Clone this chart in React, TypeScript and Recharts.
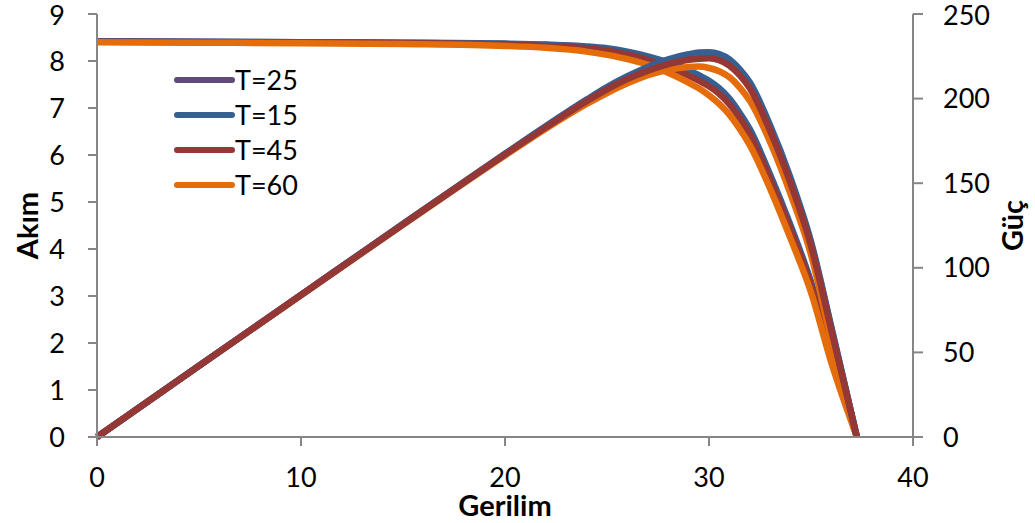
import { Legend, Line, LineChart, XAxis, YAxis } from 'recharts'

// Gerilim (V)
const voltages = [0, 5, 10, 15, 20, 22, 24, 25, 26, 27, 28, 29, 29.5, 30, 30.5, 31, 31.5, 32, 33, 34, 35, 36, 37.25]

// Akım (A)
const current25 = [8.42, 8.41, 8.4, 8.39, 8.36, 8.34, 8.29, 8.25, 8.17, 8.06, 7.92, 7.75, 7.65, 7.53, 7.37, 7.15, 6.85, 6.5, 5.53, 4.46, 3.27, 1.78, 0]
const current15 = [8.42, 8.41, 8.4, 8.39, 8.37, 8.35, 8.31, 8.27, 8.2, 8.1, 7.97, 7.8, 7.7, 7.58, 7.42, 7.2, 6.9, 6.55, 5.58, 4.5, 3.3, 1.8, 0]
const current45 = [8.41, 8.4, 8.39, 8.38, 8.35, 8.32, 8.27, 8.22, 8.14, 8.02, 7.87, 7.69, 7.58, 7.46, 7.3, 7.08, 6.79, 6.44, 5.48, 4.41, 3.23, 1.75, 0]
const current60 = [8.4, 8.39, 8.38, 8.36, 8.32, 8.28, 8.2, 8.13, 8.04, 7.92, 7.75, 7.54, 7.42, 7.27, 7.09, 6.86, 6.56, 6.21, 5.28, 4.22, 3.08, 1.58, 0]

// Güç (W)
const power25 = [0, 42.1, 84.0, 125.9, 167.2, 183.5, 199.0, 206.3, 212.4, 217.6, 221.8, 224.8, 225.7, 225.9, 224.8, 221.7, 215.8, 208.0, 182.5, 151.6, 114.5, 64.1, 0]
const power15 = [0, 42.1, 84.0, 125.9, 167.4, 183.7, 199.4, 206.8, 213.2, 218.7, 223.2, 226.2, 227.2, 227.4, 226.3, 223.2, 217.4, 209.6, 184.1, 153.0, 115.5, 64.8, 0]
const power45 = [0, 42.0, 83.9, 125.7, 167.0, 183.0, 198.5, 205.5, 211.6, 216.5, 220.4, 223.0, 223.6, 223.8, 222.7, 219.5, 213.9, 206.1, 180.8, 149.9, 113.1, 63.0, 0]
const power60 = [0, 42.0, 83.8, 125.4, 166.4, 182.2, 196.8, 203.3, 209.0, 213.8, 217.0, 218.7, 218.9, 218.1, 216.2, 212.7, 206.6, 198.7, 174.2, 143.5, 107.8, 56.9, 0]

const xTicks = [0, 10, 20, 30, 40]
const leftTicks = [0, 1, 2, 3, 4, 5, 6, 7, 8, 9]
const rightTicks = [0, 50, 100, 150, 200, 250]

const series = [
  { name: 'T=25', color: '#604A7B' },
  { name: 'T=15', color: '#376092' },
  { name: 'T=45', color: '#953735' },
  { name: 'T=60', color: '#E46C0A' },
]

const data = voltages.map((v, i) => ({
  v,
  i25: current25[i],
  i15: current15[i],
  i45: current45[i],
  i60: current60[i],
  p25: power25[i],
  p15: power15[i],
  p45: power45[i],
  p60: power60[i],
}))

const axisColor = '#868686'
const tickStyle = { fill: '#000', fontSize: 27 }
const titleStyle = { fill: '#000', fontSize: 29, fontWeight: 700 }

function LegendBox() {
  return (
    <div style={{ fontFamily: 'Lato', fontSize: 27, color: '#000' }}>
      {series.map((s) => (
        <div key={s.name} style={{ display: 'flex', alignItems: 'center', height: 35 }}>
          <svg width={61} height={10}>
            <line x1={3} y1={5} x2={58} y2={5} stroke={s.color} strokeWidth={6} strokeLinecap="round" />
          </svg>
          <span style={{ lineHeight: '35px' }}>{s.name}</span>
        </div>
      ))}
    </div>
  )
}

export default function App() {
  return (
    <div style={{ position: 'absolute', left: 0, top: 0, background: '#fff' }}>
      <LineChart
        width={1035}
        height={523}
        data={data}
        margin={{ top: 14, right: 0, bottom: 0, left: 0 }}
        style={{ fontFamily: 'Lato' }}
      >
        <XAxis
          dataKey="v"
          type="number"
          domain={[0, 40]}
          ticks={xTicks}
          height={86}
          tick={tickStyle}
          tickSize={9}
          tickMargin={22}
          stroke={axisColor}
          strokeWidth={2}
          label={{ value: 'Gerilim', position: 'insideBottom', offset: 7, style: titleStyle }}
        />
        <YAxis
          yAxisId="left"
          domain={[0, 9]}
          ticks={leftTicks}
          width={97}
          tick={tickStyle}
          tickSize={9}
          tickMargin={23}
          stroke={axisColor}
          strokeWidth={2}
          label={{
            value: 'Akım',
            angle: -90,
            position: 'insideLeft',
            offset: 28,
            style: { ...titleStyle, textAnchor: 'middle' },
          }}
        />
        <YAxis
          yAxisId="right"
          orientation="right"
          domain={[0, 250]}
          ticks={rightTicks}
          width={122}
          tick={tickStyle}
          tickSize={10}
          tickMargin={20}
          stroke={axisColor}
          strokeWidth={2}
          label={{
            value: 'Güç',
            angle: -90,
            position: 'insideRight',
            offset: 22,
            style: { ...titleStyle, textAnchor: 'middle' },
          }}
        />
        <Legend
          layout="horizontal"
          align="center"
          verticalAlign="middle"
          content={() => <LegendBox />}
          wrapperStyle={{ left: 174, top: 62, width: 200, height: 140 }}
        />

        {/* I-V curves */}
        <Line yAxisId="left" type="monotone" dataKey="i25" name="T=25" stroke="#604A7B" strokeWidth={6.5} dot={false} strokeLinejoin="round" isAnimationActive={false} />
        <Line yAxisId="left" type="monotone" dataKey="i15" name="T=15" stroke="#376092" strokeWidth={6.5} dot={false} strokeLinejoin="round" isAnimationActive={false} />
        <Line yAxisId="left" type="monotone" dataKey="i45" name="T=45" stroke="#953735" strokeWidth={6.5} dot={false} strokeLinejoin="round" isAnimationActive={false} />
        <Line yAxisId="left" type="monotone" dataKey="i60" name="T=60" stroke="#E46C0A" strokeWidth={6.5} dot={false} strokeLinejoin="round" isAnimationActive={false} />

        {/* P-V curves */}
        <Line yAxisId="right" type="monotone" dataKey="p60" legendType="none" stroke="#E46C0A" strokeWidth={6.5} dot={false} strokeLinejoin="round" isAnimationActive={false} />
        <Line yAxisId="right" type="monotone" dataKey="p25" legendType="none" stroke="#604A7B" strokeWidth={6.5} dot={false} strokeLinejoin="round" isAnimationActive={false} />
        <Line yAxisId="right" type="monotone" dataKey="p15" legendType="none" stroke="#376092" strokeWidth={6.5} dot={false} strokeLinejoin="round" isAnimationActive={false} />
        <Line yAxisId="right" type="monotone" dataKey="p45" legendType="none" stroke="#953735" strokeWidth={6.5} dot={false} strokeLinejoin="round" isAnimationActive={false} />
      </LineChart>
    </div>
  )
}
